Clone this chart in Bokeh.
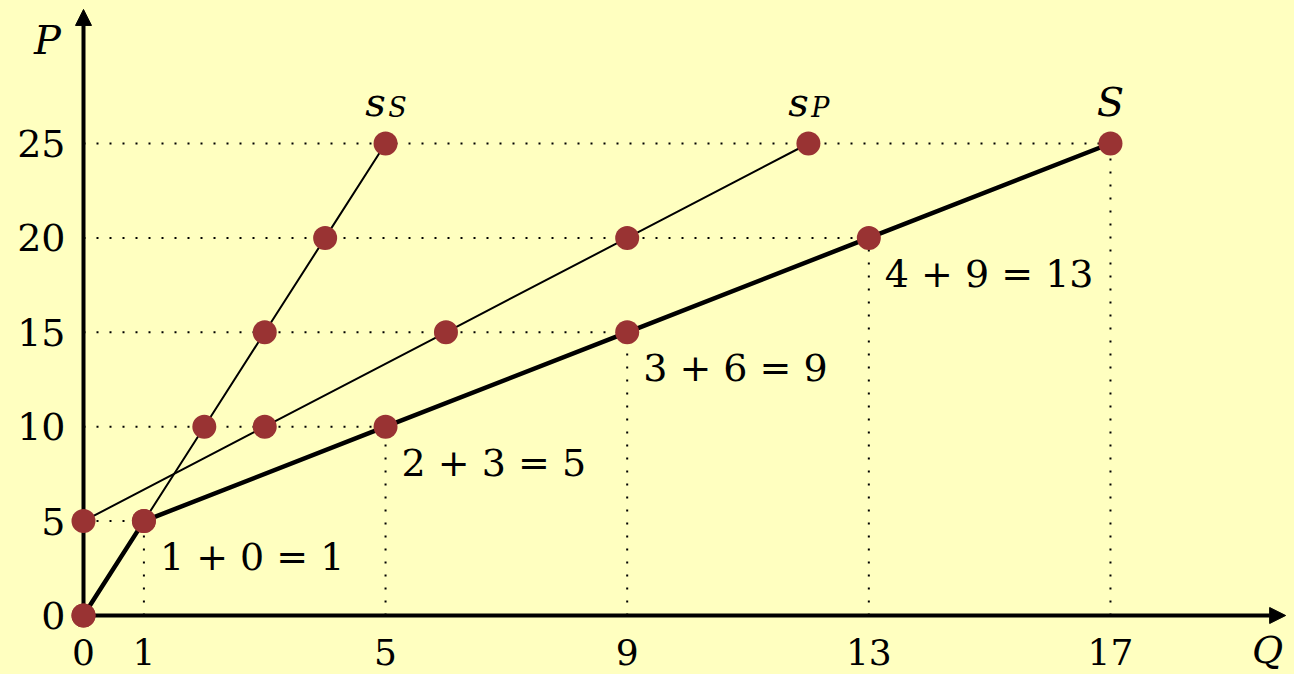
from bokeh.plotting import figure
from bokeh.models import Range1d, Arrow, NormalHead
from bokeh.core.properties import value
from bokeh.embed import file_html
from bokeh.resources import INLINE

# ---- data ----
sS_q = [0, 1, 2, 3, 4, 5]
sS_p = [0, 5, 10, 15, 20, 25]
sP_q = [0, 3, 6, 9, 12]
sP_p = [5, 10, 15, 20, 25]
S_q = [0, 1, 5, 9, 13, 17]
S_p = [0, 5, 10, 15, 20, 25]
sum_labels = ["1 + 0 = 1", "2 + 3 = 5", "3 + 6 = 9", "4 + 9 = 13"]
x_ticks = [0, 1, 5, 9, 13, 17]
y_ticks = [0, 5, 10, 15, 20, 25]

BG = "#FFFFC0"
DOT = "#993333"
FONT = value("DejaVu Serif")

W, H = 1294, 674
XS, YS = 60.41, 18.88
x0 = -83 / XS
y0 = -(H - 615) / YS
p = figure(width=W, height=H, output_backend="svg", toolbar_location=None,
           x_range=Range1d(x0, x0 + W / XS), y_range=Range1d(y0, y0 + H / YS),
           min_border=0, background_fill_color=BG, border_fill_color=BG,
           outline_line_color=None)
p.axis.visible = False
p.grid.visible = False

# dotted guides
for q, pr in zip(S_q[1:], S_p[1:]):
    p.line([0, q], [pr, pr], line_color="black", line_width=2, line_dash="2 11")
    p.line([q, q], [0, pr], line_color="black", line_width=2, line_dash="2 11")

# axes
p.add_layout(Arrow(end=NormalHead(size=16, fill_color="black", line_color="black"),
                   x_start=0, y_start=0, x_end=19.9, y_end=0, line_width=4, level="underlay"))
p.add_layout(Arrow(end=NormalHead(size=16, fill_color="black", line_color="black"),
                   x_start=0, y_start=0, x_end=0, y_end=32.1, line_width=4, level="underlay"))

# lines
p.line(sS_q, sS_p, line_color="black", line_width=2)
p.line(sP_q, sP_p, line_color="black", line_width=2)
p.line(S_q, S_p, line_color="black", line_width=4.5)

# dots
p.scatter(sS_q, sS_p, size=24, fill_color=DOT, line_color=None)
p.scatter(sP_q, sP_p, size=24, fill_color=DOT, line_color=None)
p.scatter(S_q, S_p, size=24, fill_color=DOT, line_color=None)

# sum labels
p.text(S_q[1:5], S_p[1:5], text=sum_labels, text_font=FONT, text_font_size="38px",
       text_align="left", text_baseline="middle", x_offset=16, y_offset=36, text_color="black")

# tick labels
p.text(x_ticks, [0] * len(x_ticks), text=[str(t) for t in x_ticks], text_font=FONT,
       text_font_size="36px", text_align="center", text_baseline="middle", y_offset=36)
p.text([0] * len(y_ticks), y_ticks, text=[str(t) for t in y_ticks], text_font=FONT,
       text_font_size="38px", text_align="right", text_baseline="middle", x_offset=-18)

# axis names
p.text([0], [30.5], text=["P"], text_font=FONT, text_font_style="italic",
       text_font_size="40px", text_align="center", text_baseline="middle", x_offset=-36)
p.text([19.6], [0], text=["Q"], text_font=FONT, text_font_style="italic",
       text_font_size="38px", text_align="center", text_baseline="middle", y_offset=34)

# series names
p.text([sS_q[-1], sP_q[-1]], [25, 25], text=["s", "s"], text_font=FONT, text_font_style="italic",
       text_font_size="40px", text_align="center", text_baseline="middle", x_offset=-10, y_offset=-42)
p.text([sS_q[-1], sP_q[-1]], [25, 25], text=["S", "P"], text_font=FONT, text_font_style="italic",
       text_font_size="27px", text_align="center", text_baseline="middle", x_offset=12, y_offset=-36)
p.text([S_q[-1]], [25], text=["S"], text_font=FONT, text_font_style="italic",
       text_font_size="40px", text_align="center", text_baseline="middle", y_offset=-42)

html = file_html(p, INLINE)
html = html.replace("<head>", "<head><style>html,body{background:%s;}</style>" % BG, 1)
open("out.html", "w").write(html)
